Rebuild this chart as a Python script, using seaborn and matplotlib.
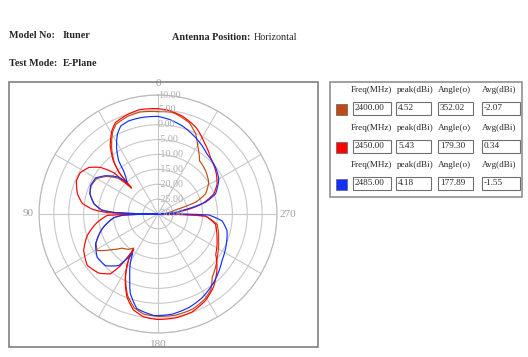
import numpy as np
import pandas as pd
import matplotlib.pyplot as plt
import seaborn as sns
from matplotlib.patches import Rectangle

# legend table values
freqs = ['2400.00', '2450.00', '2485.00']
peaks = ['4.52', '5.43', '4.18']
peak_angles = ['352.02', '179.30', '177.89']
avgs = ['-2.07', '0.34', '-1.55']
line_colors = ['#C04A12', '#FF0000', '#1030FF']
headers = ['Freq(MHz)', 'peak(dBi)', 'Angle(o)', 'Avg(dBi)']

# E-plane patterns (angle in deg, gain in dBi)
ang_2400 = [0, 10, 17, 25, 29, 35, 40, 43.4, 44.5, 45.5, 48, 54, 60, 67, 73.5, 81, 86, 88, 90,
            92, 95, 105, 115, 121, 127, 133.4, 140, 144.3, 147, 149, 152.6, 159.5, 165.7, 172,
            180, 190, 200, 209, 215, 220.6, 233.8, 246, 260, 267.5, 270, 276, 283.5, 287.5, 293,
            302, 312, 322, 329, 334.7, 341, 350, 352, 360]
db_2400 = [4.4, 4.8, 4.4, 3.3, 1.5, -2.8, -7.0, -11.0, -15.0, -17.5, -12.0, -8.5, -6.2, -5.6,
           -6.2, -8.3, -11.0, -15.0, -30.0, -18.0, -15.0, -10.5, -7.0, -6.1, -10.0, -13.3, -14.5,
           -15.9, -12.0, -9.8, -6.3, -0.8, 2.5, 4.0, 4.4, 4.5, 4.0, 2.6, 1.0, -2.0, -5.3, -7.7,
           -9.8, -14.0, -30.0, -27.0, -23.8, -16.7, -12.6, -9.9, -8.4, -7.3, -3.9, -0.3, 2.4,
           4.2, 4.52, 4.4]

ang_2450 = [0, 10, 17, 25, 29, 35, 40, 43, 44.5, 45.5, 47, 51, 56, 62, 68, 76, 82, 86, 88.5, 90,
            91.5, 95, 98, 107, 116, 126, 135, 141.5, 144, 145.5, 147, 149, 152.6, 159.5, 165.7,
            172, 179.3, 190, 199, 209, 217, 226, 235, 248, 260, 267.5, 270, 273, 277, 283, 290,
            297, 305.6, 317, 327, 336, 346, 354, 360]
db_2450 = [5.4, 5.6, 5.0, 3.9, 2.0, -2.0, -6.6, -10.8, -15.0, -17.5, -9.6, -5.1, -2.0, -0.4,
           -0.4, -2.1, -4.3, -8.0, -13.0, -30.0, -13.0, -11.0, -9.3, -5.1, -2.2, -0.6, -1.9,
           -4.3, -8.5, -15.6, -12.0, -9.8, -6.1, -0.2, 3.3, 4.9, 5.43, 5.4, 4.9, 3.1, 0.9, -2.5,
           -6.3, -8.6, -10.4, -14.0, -30.0, -24.0, -21.7, -14.7, -10.0, -7.7, -6.0, -4.1, -1.4,
           1.7, 3.9, 5.0, 5.4]

ang_2485 = [0, 10.5, 17.6, 23, 27, 32, 36.5, 38.5, 41, 44, 47.7, 54, 60, 67, 73.5, 81, 86, 88,
            90, 92, 94.7, 105, 115.7, 125.5, 134.5, 142.7, 145.8, 147, 150.9, 155.8, 160.8, 167.4,
            177.9, 188, 198.4, 208, 219.4, 234, 246.3, 256.3, 263.8, 268.9, 271, 274, 278.5, 284,
            289.3, 300, 309, 320.5, 333.7, 344.5, 353, 360]
db_2485 = [2.8, 2.9, 2.8, 2.1, 0.1, -3.7, -7.8, -11.4, -13.5, -15.0, -11.4, -8.1, -5.8, -5.4,
           -6.1, -8.2, -11.0, -15.0, -30.0, -18.0, -15.1, -10.5, -6.7, -4.9, -5.2, -8.2, -12.4,
           -14.4, -10.8, -6.8, -1.7, 2.6, 4.18, 4.0, 3.1, 1.8, -0.4, -3.4, -4.9, -6.1, -8.3,
           -12.9, -30.0, -25.0, -21.7, -13.5, -9.5, -6.4, -5.1, -4.0, -1.4, 0.7, 2.0, 2.8]

ring_values = [10, 5, 0, -5, -10, -15, -20, -25, -30]

frames = []
for f, a, d in [(freqs[0], ang_2400, db_2400), (freqs[1], ang_2450, db_2450),
                (freqs[2], ang_2485, db_2485)]:
    frames.append(pd.DataFrame({'theta': np.deg2rad(a), 'gain': d, 'freq': f}))
df = pd.concat(frames, ignore_index=True)

sns.set_theme(style='white')
plt.rcParams['font.family'] = ['Liberation Serif', 'DejaVu Serif']

W, H = 528, 357
fig = plt.figure(figsize=(W / 100, H / 100), dpi=100)


def fx(x):
    return x / W


def fy(y):
    return 1 - y / H


# header texts
fig.text(fx(9), fy(36), 'Model No:', fontsize=7.3, fontweight='bold', va='center')
fig.text(fx(63), fy(36), 'Ituner', fontsize=7.3, fontweight='bold', va='center')
fig.text(fx(172), fy(37), 'Antenna Position:', fontsize=7.3, fontweight='bold', va='center')
fig.text(fx(254), fy(37), 'Horizontal', fontsize=7.3, va='center')
fig.text(fx(9), fy(64), 'Test Mode:', fontsize=7.3, fontweight='bold', va='center')
fig.text(fx(63), fy(64), 'E-Plane', fontsize=7.3, fontweight='bold', va='center')

# panel frames
fig.patches.append(Rectangle((fx(9), fy(347)), fx(309), 265 / H, transform=fig.transFigure,
                             fill=False, edgecolor='#808080', lw=1.2))
fig.patches.append(Rectangle((fx(330), fy(197)), fx(192), 115 / H, transform=fig.transFigure,
                             fill=False, edgecolor='#909090', lw=1.2))

# polar chart
cx, cy, rad = 158, 214, 119
ax = fig.add_axes([fx(cx - rad), fy(cy + rad), 2 * rad / W, 2 * rad / H], projection='polar')
ax.set_theta_zero_location('N')
ax.set_theta_direction(1)
sns.lineplot(data=df, x='theta', y='gain', hue='freq', palette=line_colors, sort=False,
             estimator=None, legend=False, lw=0.85, ax=ax)
for ln in ax.lines:
    ln.get_path()._interpolation_steps = 12
ax.set_ylim(-30, 10)
ax.set_yticks(ring_values)
ax.set_yticklabels([])
ax.set_xlabel('')
ax.set_ylabel('')
ax.set_thetagrids(range(0, 360, 30),
                  labels=['0', '', '', '90', '', '', '180', '', '', '270', '', ''],
                  fontsize=8, color='#A0A0A0')
ax.tick_params(axis='x', pad=-5)
ax.grid(True, color='#C8C8C8', lw=0.8)
ax.spines['polar'].set_color('#B8B8B8')
ax.spines['polar'].set_linewidth(0.8)
ax.set_facecolor('white')
for v in ring_values:
    ax.text(0, v, f'{v:.2f}', fontsize=7.3, color='#B0B0B0', ha='left', va='center')

# legend table
box_x = [(353, 391), (396, 431), (438, 473), (482, 520)]
head_x = [351, 397, 438, 482]
for i in range(3):
    y0 = 90 + 37.5 * i
    for hx, h in zip(head_x, headers):
        fig.text(fx(hx), fy(y0), h, fontsize=6.6, va='center')
    fig.patches.append(Rectangle((fx(336), fy(y0 + 25)), fx(11), 11 / H,
                                 transform=fig.transFigure, facecolor=line_colors[i],
                                 edgecolor='#606060', lw=0.5))
    vals = [freqs[i], peaks[i], peak_angles[i], avgs[i]]
    for (x0, x1), v in zip(box_x, vals):
        fig.patches.append(Rectangle((fx(x0), fy(y0 + 25)), fx(x1 - x0), 13 / H,
                                     transform=fig.transFigure, facecolor='white',
                                     edgecolor='#707070', lw=0.8))
        fig.text(fx(x0 + 2), fy(y0 + 18.5), v, fontsize=6.6, va='center')

fig.savefig('out.png', dpi=100)
